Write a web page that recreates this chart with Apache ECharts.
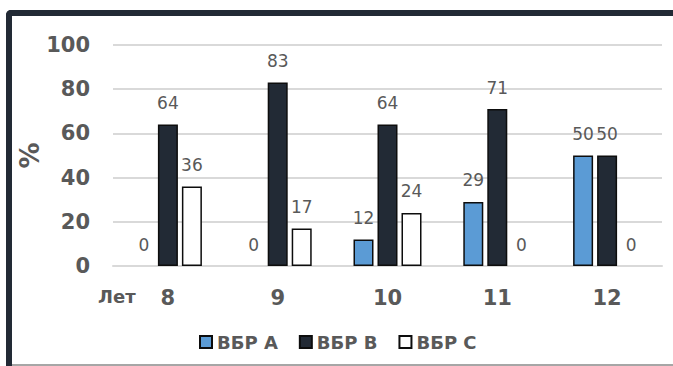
<!DOCTYPE html>
<html>
<head>
<meta charset="utf-8">
<script src="https://cdn.jsdelivr.net/npm/echarts@6/dist/echarts.min.js"></script>
<style>
html,body{margin:0;padding:0;background:#fff;overflow:hidden;}
#topbar{position:absolute;left:6px;top:10px;width:667px;height:6px;background:#222A35;border-top-left-radius:5px;}
#leftbar{position:absolute;left:6px;top:10px;width:6px;height:356px;background:#222A35;border-top-left-radius:5px;}
#bottombar{position:absolute;left:12px;top:364px;width:661px;height:2px;background:#A6A6A6;}
#chart{position:absolute;left:0;top:0;width:673px;height:366px;}
</style>
</head>
<body>
<div id="topbar"></div>
<div id="leftbar"></div>
<div id="bottombar"></div>
<div id="chart"></div>
<script>
const categories = ['8', '9', '10', '11', '12'];
const seriesNames = ['ВБР А', 'ВБР В', 'ВБР С'];
const valuesA = [0, 0, 12, 29, 50];
const valuesB = [64, 83, 64, 71, 50];
const valuesC = [36, 17, 24, 0, 0];
const yTicks = [0, 20, 40, 60, 80, 100];
const xPrefix = 'Лет';
const yName = '%';

const colors = ['#5B9BD5', '#222A35', '#FFFFFF'];
const font = 'DejaVu Sans';
const grey = '#595959';

function mkSeries(name, values, color) {
  return {
    name: name,
    type: 'bar',
    barWidth: 20,
    barGap: '20%',
    itemStyle: { color: color, borderColor: '#0D0D0D', borderWidth: 1.5 },
    data: values.map(v => v === 0 ? { value: v, itemStyle: { borderWidth: 0 } } : v),
    label: {
      show: true, position: 'top', distance: 13,
      fontFamily: font, fontSize: 17, color: grey
    }
  };
}

const chart = echarts.init(document.getElementById('chart'), null, { renderer: 'svg' });
chart.setOption({
  animation: false,
  backgroundColor: 'transparent',
  grid: { left: 113, right: 11, top: 45, bottom: 100 },
  legend: {
    data: seriesNames,
    left: 194, top: 328,
    itemWidth: 12, itemHeight: 12, itemGap: 21,
    icon: 'rect',
    textStyle: { fontFamily: font, fontWeight: 'bold', fontSize: 18, color: grey }
  },
  xAxis: {
    type: 'category',
    data: categories,
    axisLine: { lineStyle: { color: '#D9D9D9', width: 2 } },
    axisTick: { show: false },
    axisLabel: { margin: 21, fontFamily: font, fontWeight: 'bold', fontSize: 21, color: grey }
  },
  yAxis: {
    type: 'value',
    min: yTicks[0], max: yTicks[yTicks.length - 1], interval: 20,
    name: yName, nameLocation: 'middle', nameRotate: 90, nameGap: 70,
    nameMoveOverlap: false,
    nameTextStyle: { fontFamily: font, fontWeight: 'bold', fontSize: 26, color: grey },
    axisLine: { show: false },
    axisTick: { show: false },
    splitLine: { lineStyle: { color: '#D9D9D9', width: 2 } },
    axisLabel: { margin: 23, fontFamily: font, fontWeight: 'bold', fontSize: 21, color: grey }
  },
  graphic: [
    { type: 'text', left: 98, top: 287, style: { text: xPrefix, fontFamily: font, fontWeight: 'bold', fontSize: 18, fill: grey } }
  ],
  series: [
    mkSeries(seriesNames[0], valuesA, colors[0]),
    mkSeries(seriesNames[1], valuesB, colors[1]),
    mkSeries(seriesNames[2], valuesC, colors[2])
  ]
});
</script>
</body>
</html>
